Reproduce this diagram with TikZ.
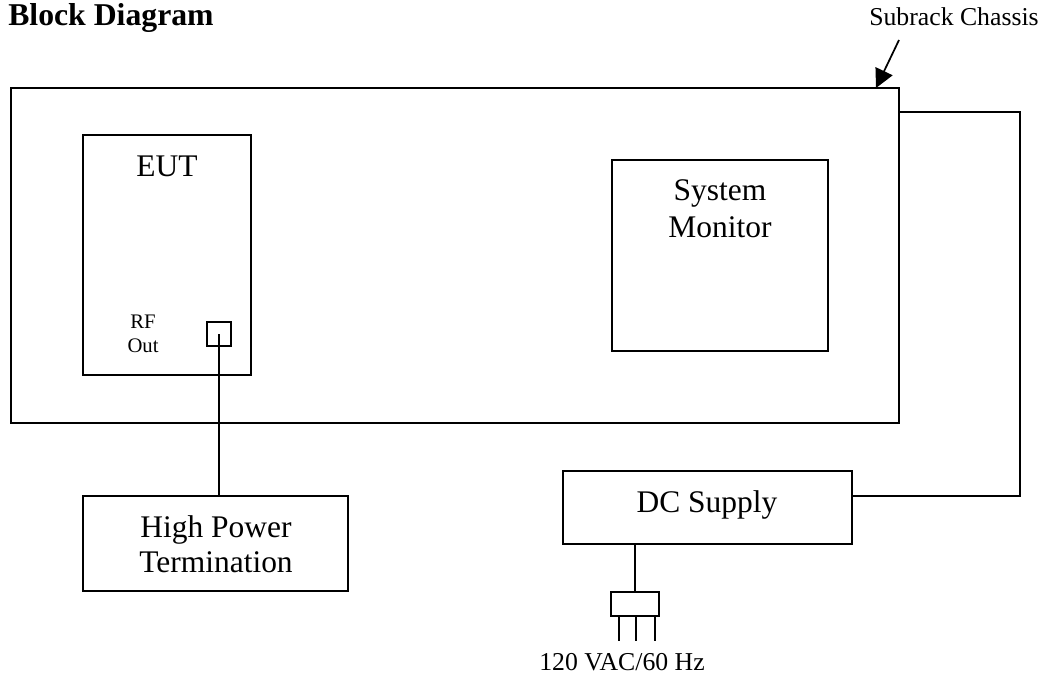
\documentclass[tikz,border=0pt]{standalone}
\usepackage{fontspec}
\setmainfont{Liberation Serif}
\usetikzlibrary{arrows.meta, fit}
\tikzset{
	box/.style={draw, line width=1.3pt, inner sep=0pt},
	wire/.style={line width=1.3pt},
	big/.style={font=\fontsize{23.6}{28}\selectfont, anchor=base, inner sep=0pt},
	small/.style={font=\fontsize{19.3}{23}\selectfont, anchor=base, inner sep=0pt},
	tiny/.style={font=\fontsize{15.5}{18}\selectfont, anchor=base, inner sep=0pt},
}
\begin{document}
\begin{tikzpicture}[x=0.75pt, y=-0.75pt]
	\useasboundingbox (0, 0) rectangle (1052, 678);
	\node[big, anchor=base west, font=\bfseries\fontsize{23.8}{28}\selectfont] (title) at (8, 25) {Block Diagram};

	\node[box, fit={(11, 88) (899, 423)}] (chassis) {}; %subrack
	\node[box, fit={(83, 135) (251, 375)}] (eut) {}; %EUT
	\node[box, fit={(612, 160) (828, 351)}] (sysmon) {}; %monitor
	\node[box, fit={(83, 496) (348, 591)}] (hpt) {}; %termination
	\node[box, fit={(563, 471) (852, 544)}] (dc) {}; %supply
	\node[box, fit={(207, 322) (231, 346)}] (rfport) {}; %RF connector
	\node[box, fit={(611, 592) (659, 616)}] (plug) {}; %mains plug

	\node[big] (eutlbl) at (167, 176) {EUT};
	\node[big] (sysmonlbl1) at (720, 200) {System};
	\node[big] (sysmonlbl2) at (720, 237) {Monitor};
	\node[big] (hptlbl1) at (216, 537) {High Power};
	\node[big] (hptlbl2) at (216, 572) {Termination};
	\node[big] (dclbl) at (707, 512) {DC Supply};
	\node[tiny] (rflbl1) at (143, 328) {RF};
	\node[tiny] (rflbl2) at (143, 352) {Out};
	\node[small] (sublbl) at (954, 25) {Subrack Chassis};
	\node[small] (aclbl) at (622, 670) {120 VAC/60 Hz};

	\draw[wire](rfport.center)-- (rfport.center |- hpt.north); %RF out - termination
	\coordinate (chsout) at (899, 112);
	\coordinate (dcin) at (852, 496);
	\draw[wire](chsout)-- ++(121, 0) |- (dcin); %chassis - supply
	\draw[wire](plug.north)-- (plug.north |- dc.south); %supply - plug
	\foreach \px in {619, 636, 655}
		\draw[wire](plug.south -| \px, 0)-- ++(0, 24); %prongs

	\coordinate (ptrtail) at (899, 40);
	\coordinate (ptrhead) at (876, 88);
	\draw[wire, -{Triangle[length=14pt, width=14pt]}](ptrtail)-- (ptrhead);
\end{tikzpicture}
\end{document}
